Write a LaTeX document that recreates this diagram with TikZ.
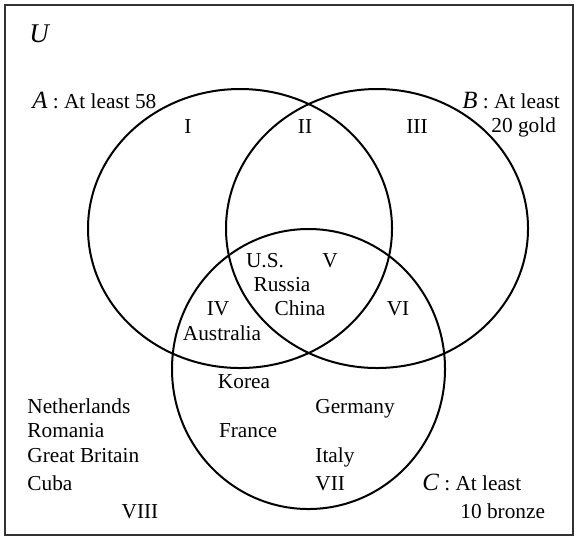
\documentclass[tikz,border=0pt]{standalone}
\usepackage{fontspec}
\setmainfont{Liberation Serif}
% italic set letter, a little larger than the body text
\newcommand{\setlbl}[1]{{\fontsize{12.4}{14}\selectfont\itshape #1}}
\begin{document}
\begin{tikzpicture}[x=0.5pt,y=-0.5pt,
  txt/.style={inner sep=0pt,font=\fontsize{10.65}{12.8}\selectfont},
  setline/.style={line width=1pt,black}]
\useasboundingbox (0,0) rectangle (576,538);
% universe frame
\draw[line width=1pt,black!80] (5,5) rectangle (573,535);
% the three sets
\draw[setline] (240,228.5) ellipse [x radius=76pt, y radius=69.75pt];
\draw[setline] (377,228.5) ellipse [x radius=75.5pt, y radius=69.75pt];
\draw[setline] (308.5,369) ellipse [x radius=68.25pt, y radius=70pt];
% set labels
\node[txt,anchor=base west,font=\fontsize{13.5}{15}\selectfont\itshape] (u) at (29,42) {U};
\node[txt,anchor=base west] (a) at (32,108) {\setlbl{A} : At least 58};
\node[txt,anchor=base west] (b) at (462,108) {\setlbl{B} : At least};
\node[txt,anchor=base west] (b2) at (491,132) {20 gold};
\node[txt,anchor=base west] (c) at (422,490) {\setlbl{C} : At least};
\node[txt,anchor=base west] (c2) at (460,518) {10 bronze};
% region numerals
\node[txt,anchor=base] (r1) at (188,133) {I};
\node[txt,anchor=base] (r2) at (305,133) {II};
\node[txt,anchor=base] (r3) at (417,133) {III};
\node[txt,anchor=base] (r4) at (218,315) {IV};
\node[txt,anchor=base] (r5) at (330,267) {V};
\node[txt,anchor=base] (r6) at (398,315) {VI};
\node[txt,anchor=base west] (r7) at (315,490) {VII};
\node[txt,anchor=base] (r8) at (140,518) {VIII};
% countries
\node[txt,anchor=base] (us) at (265,267) {U.S.};
\node[txt,anchor=base] (ru) at (282,291) {Russia};
\node[txt,anchor=base] (cn) at (300,315) {China};
\node[txt,anchor=base] (au) at (222,340) {Australia};
\node[txt,anchor=base] (kr) at (244,388) {Korea};
\node[txt,anchor=base] (fr) at (248,437) {France};
\node[txt,anchor=base west] (de) at (315,413) {Germany};
\node[txt,anchor=base west] (it) at (315,462) {Italy};
\node[txt,anchor=base west] (nl) at (27,413) {Netherlands};
\node[txt,anchor=base west] (ro) at (27,437) {Romania};
\node[txt,anchor=base west] (gb) at (27,462) {Great Britain};
\node[txt,anchor=base west] (cu) at (27,490) {Cuba};
\end{tikzpicture}
\end{document}
